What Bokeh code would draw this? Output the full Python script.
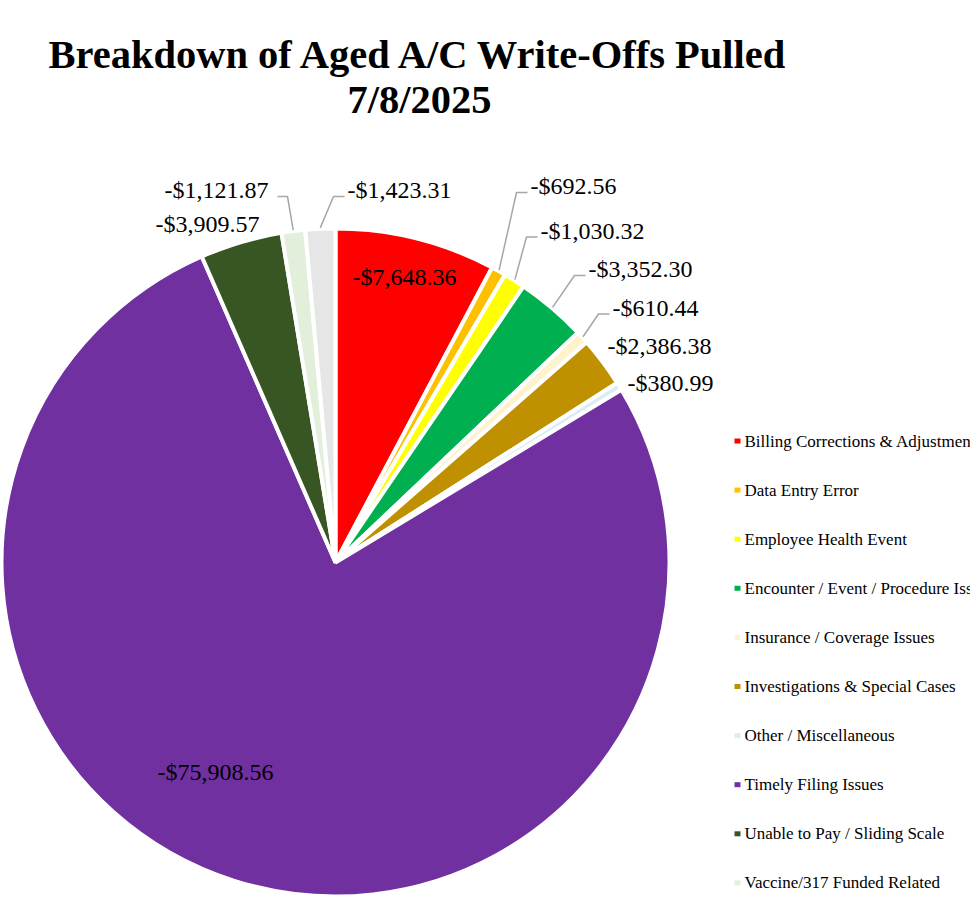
import numpy as np
from bokeh.plotting import figure
from bokeh.models import Range1d, ColumnDataSource
from bokeh.core.properties import value
from bokeh.embed import file_html
from bokeh.resources import INLINE

# ---------------- data ----------------
categories = [
    "Billing Corrections & Adjustments",
    "Data Entry Error",
    "Employee Health Event",
    "Encounter / Event / Procedure Issues",
    "Insurance / Coverage Issues",
    "Investigations & Special Cases",
    "Other / Miscellaneous",
    "Timely Filing Issues",
    "Unable to Pay / Sliding Scale",
    "Vaccine/317 Funded Related",
    "(blank)",
]
amounts = [-7648.36, -692.56, -1030.32, -3352.30, -610.44, -2386.38,
           -380.99, -75908.56, -3909.57, -1121.87, -1423.31]
colors = ["#FF0000", "#FFC000", "#FFFF00", "#00B050", "#FFF2CC", "#BF9000",
          "#DDEBF7", "#7030A0", "#375623", "#E2EFDA", "#E7E6E6"]
title_lines = ["Breakdown of Aged A/C Write-Offs Pulled", "7/8/2025"]

# ---------------- layout (page pixels) ----------------
W, H = 970, 905
CX, CY, R = 335, 562, 334
SERIF = value("Liberation Serif")
# (align, x, text middle y, has leader line)
label_layout = [
    ("left", 352, 276.5, False),
    ("left", 530, 185.5, True),
    ("left", 540, 230, True),
    ("left", 588, 268.5, True),
    ("left", 612, 307, True),
    ("left", 607, 345.5, False),
    ("left", 627, 382.5, False),
    ("left", 157, 771, False),
    ("left", 155, 223, False),
    ("right", 268, 189.5, True),
    ("left", 347, 189.5, True),
]
LEG_X, LEG_Y0, LEG_DY, LEG_ROWS = 737, 440.5, 49.1, 10

def Y(py):
    return -py

vals = np.abs(np.array(amounts))
frac = vals / vals.sum()
cum_end = np.cumsum(frac)
cum_start = cum_end - frac
start_angle = np.pi / 2 - 2 * np.pi * cum_start
end_angle = np.pi / 2 - 2 * np.pi * cum_end
mid = 2 * np.pi * (cum_start + cum_end) / 2  # clockwise from top

p = figure(width=W, height=H, output_backend="svg", toolbar_location=None,
           x_range=Range1d(0, W), y_range=Range1d(-H, 0),
           x_axis_location=None, y_axis_location=None, min_border=0,
           background_fill_color="white", border_fill_color="white")
p.outline_line_color = None
p.grid.visible = False

src = ColumnDataSource(dict(start=start_angle, end=end_angle, color=colors,
                            cat=categories))
p.wedge(x=CX, y=Y(CY), radius=R, start_angle="start", end_angle="end",
        direction="clock", fill_color="color", line_color="white",
        line_width=4, source=src)

# data labels + leader lines
labels = [f"-${v:,.2f}" for v in vals]
lx_left, ly_left, t_left = [], [], []
lx_right, ly_right, t_right = [], [], []
xs, ys = [], []
for i, (align, lx, my, lead) in enumerate(label_layout):
    if align == "left":
        lx_left.append(lx); ly_left.append(Y(my)); t_left.append(labels[i])
    else:
        lx_right.append(lx); ly_right.append(Y(my)); t_right.append(labels[i])
    if lead:
        sx = CX + (R + 1) * np.sin(mid[i])
        sy = CY - (R + 1) * np.cos(mid[i])
        if align == "left":
            ex, exx = lx - 14, lx - 3
        else:
            ex, exx = lx + 19, lx + 9
        xs.append([sx, ex, exx])
        ys.append([Y(sy), Y(my + 6.5), Y(my + 6.5)])

p.multi_line(xs=xs, ys=ys, line_color="#A6A6A6", line_width=1.5)
p.text(x=lx_left, y=ly_left, text=t_left, text_font=SERIF,
       text_font_size="24px", text_align="left", text_baseline="middle",
       text_color="black")
p.text(x=lx_right, y=ly_right, text=t_right, text_font=SERIF,
       text_font_size="24px", text_align="right", text_baseline="middle",
       text_color="black")

# legend
leg_y = [LEG_Y0 + i * LEG_DY for i in range(LEG_ROWS)]
p.rect(x=[LEG_X] * LEG_ROWS, y=[Y(v) for v in leg_y], width=6, height=5,
       fill_color=colors[:LEG_ROWS], line_color=None)
p.text(x=[LEG_X + 7] * LEG_ROWS, y=[Y(v) for v in leg_y],
       text=categories[:LEG_ROWS], text_font=SERIF, text_font_size="17px",
       text_align="left", text_baseline="middle", text_color="#000000")

# title
p.text(x=[419, 419], y=[Y(54), Y(99)], text=title_lines, text_font=SERIF,
       text_font_size="40.5px", text_font_style="bold", text_align="center",
       text_baseline="middle", text_color="black")

open("out.html", "w").write(file_html(p, INLINE))
